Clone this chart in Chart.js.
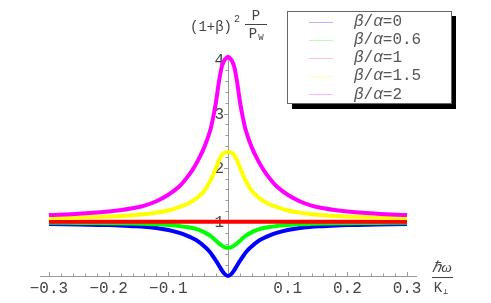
<!DOCTYPE html>
<html>

<head>
  <title>Normalized power vs frequency</title>
  <script src="https://cdn.jsdelivr.net/npm/chart.js"></script>
  <style>
    body { margin: 0; background: #fff; }
  </style>
</head>

<body>
  <canvas id="powerChart" width="491" height="303"></canvas>
  <script>
    // hbar*omega / K_perp, denser near the resonance
    var xValues = [-0.3, -0.25, -0.2, -0.16, -0.14, -0.12, -0.1, -0.08, -0.07, -0.06, -0.05, -0.04, -0.03, -0.025, -0.02, -0.015, -0.01, -0.005,
      0, 0.005, 0.01, 0.015, 0.02, 0.025, 0.03, 0.04, 0.05, 0.06, 0.07, 0.08, 0.1, 0.12, 0.14, 0.16, 0.2, 0.25, 0.3];

    // (1+beta)^2 P/Pw, one list per beta/alpha
    var ratio0 = [0.96, 0.95, 0.94, 0.92, 0.91, 0.885, 0.85, 0.79, 0.75, 0.70, 0.64, 0.55, 0.44, 0.36, 0.28, 0.19, 0.10, 0.03,
      0, 0.03, 0.10, 0.19, 0.28, 0.36, 0.44, 0.55, 0.64, 0.70, 0.75, 0.79, 0.85, 0.885, 0.91, 0.92, 0.94, 0.95, 0.96];
    var ratio06 = [0.985, 0.98, 0.975, 0.97, 0.963, 0.955, 0.94, 0.92, 0.905, 0.885, 0.855, 0.81, 0.745, 0.70, 0.65, 0.60, 0.56, 0.53,
      0.52, 0.53, 0.56, 0.60, 0.65, 0.70, 0.745, 0.81, 0.855, 0.885, 0.905, 0.92, 0.94, 0.955, 0.963, 0.97, 0.975, 0.98, 0.985];
    var ratio1 = [1, 1, 1, 1, 1, 1, 1, 1, 1, 1, 1, 1, 1, 1, 1, 1, 1, 1,
      1, 1, 1, 1, 1, 1, 1, 1, 1, 1, 1, 1, 1, 1, 1, 1, 1, 1, 1];
    var ratio15 = [1.07, 1.08, 1.10, 1.12, 1.14, 1.17, 1.21, 1.28, 1.32, 1.38, 1.46, 1.57, 1.75, 1.87, 2.0, 2.14, 2.24, 2.28,
      2.29, 2.28, 2.24, 2.14, 2.0, 1.87, 1.75, 1.57, 1.46, 1.38, 1.32, 1.28, 1.21, 1.17, 1.14, 1.12, 1.10, 1.08, 1.07];
    var ratio2 = [1.125, 1.15, 1.19, 1.25, 1.30, 1.38, 1.50, 1.67, 1.80, 1.95, 2.14, 2.37, 2.68, 2.92, 3.22, 3.6, 3.88, 4.0,
      4.05, 4.0, 3.88, 3.6, 3.22, 2.92, 2.68, 2.37, 2.14, 1.95, 1.80, 1.67, 1.50, 1.38, 1.30, 1.25, 1.19, 1.15, 1.125];

    var seriesLabels = ['0', '0.6', '1', '1.5', '2'];
    var seriesData = [ratio0, ratio06, ratio1, ratio15, ratio2];
    var lineColors = ['#0000ff', '#00ff00', '#ff0000', '#ffff00', '#ff00ff'];
    var legendColors = ['#b4b4ff', '#b4ffb4', '#ffc4c4', '#ffffb0', '#ffb4ff'];

    var xTicks = [-0.3, -0.2, -0.1, 0.1, 0.2, 0.3];
    var yTicks = [1, 2, 3, 4];

    var axisColor = '#9a9a9a';
    var textColor = '#444';
    var mono = '"Liberation Mono", monospace';

    function fmtX(v) {
      var s = Math.abs(v).toFixed(1);
      return v < 0 ? '\u2212' + s : s;
    }

    // minor + major tick marks, Mathematica style, plus y labels left of the centred axis
    var tickMarks = {
      id: 'tickMarks',
      beforeDatasetsDraw: function (chart) {
        var ctx = chart.ctx, xs = chart.scales.x, ys = chart.scales.y;
        var x0 = xs.getPixelForValue(0), y0 = ys.getPixelForValue(0);
        ctx.save();
        ctx.strokeStyle = axisColor;
        ctx.lineWidth = 1;
        ctx.beginPath();
        for (var i = -15; i <= 15; i++) {
          var px = Math.round(xs.getPixelForValue(i * 0.02)) + 0.5;
          var len = (i % 5 === 0) ? 4 : 2.5;
          ctx.moveTo(px, y0);
          ctx.lineTo(px, y0 - len);
        }
        for (var j = 1; j <= 20; j++) {
          var py = Math.round(ys.getPixelForValue(j * 0.2)) + 0.5;
          var l2 = (j % 5 === 0) ? 4 : 2.5;
          ctx.moveTo(x0, py);
          ctx.lineTo(x0 - l2, py);
        }
        ctx.stroke();

        ctx.fillStyle = textColor;
        ctx.font = '16px ' + mono;
        ctx.textAlign = 'right';
        ctx.textBaseline = 'middle';
        yTicks.forEach(function (v) {
          ctx.fillText(String(v), x0 - 4, ys.getPixelForValue(v) + 1);
        });
        ctx.restore();
      },
      afterDraw: function (chart) {
        var ctx = chart.ctx;
        ctx.save();
        ctx.fillStyle = textColor;
        ctx.strokeStyle = textColor;
        ctx.textBaseline = 'alphabetic';

        // y axis label  (1+b)^2 P / P_W
        ctx.font = '14px ' + mono;
        ctx.textAlign = 'left';
        ctx.fillText('(1+\u03b2)', 190, 31);
        ctx.font = '10px ' + mono;
        ctx.fillText('2', 234, 22);
        ctx.font = '14px ' + mono;
        ctx.textAlign = 'center';
        ctx.fillText('P', 256, 20);
        ctx.fillText('P', 253, 38);
        ctx.font = '9px ' + mono;
        ctx.fillText('W', 261, 40);
        ctx.lineWidth = 1;
        ctx.beginPath();
        ctx.moveTo(245, 24.5);
        ctx.lineTo(267, 24.5);
        ctx.stroke();

        // x axis label  hbar omega / K_perp
        ctx.font = 'italic 15px "Liberation Serif", serif';
        ctx.fillText('\u210f\u03c9', 442, 272);
        ctx.beginPath();
        ctx.moveTo(432, 277.5);
        ctx.lineTo(453, 277.5);
        ctx.stroke();
        ctx.font = '14px ' + mono;
        ctx.fillText('K', 438, 292);
        ctx.font = '8px ' + mono;
        ctx.fillText('\u22a5', 446, 294);

        // legend box with drop shadow
        ctx.fillStyle = '#000';
        ctx.fillRect(292, 16, 164, 93);
        ctx.fillStyle = '#fff';
        ctx.fillRect(287, 12, 164, 92);
        ctx.strokeStyle = '#666';
        ctx.strokeRect(287.5, 11.5, 164, 92);

        ctx.textAlign = 'left';
        ctx.textBaseline = 'middle';
        for (var k = 0; k < seriesLabels.length; k++) {
          var ry = 21.5 + k * 18.2;
          ctx.strokeStyle = legendColors[k];
          ctx.beginPath();
          ctx.moveTo(309, Math.round(ry) + 0.5);
          ctx.lineTo(333, Math.round(ry) + 0.5);
          ctx.stroke();
          ctx.fillStyle = '#555';
          var tx = 354;
          ctx.font = 'italic 16px ' + mono;
          ctx.fillText('\u03b2', tx, ry);
          ctx.font = '16px ' + mono;
          ctx.fillText('/', tx + 9.6, ry);
          ctx.font = 'italic 16px ' + mono;
          ctx.fillText('\u03b1', tx + 19.2, ry);
          ctx.font = '16px ' + mono;
          ctx.fillText('=' + seriesLabels[k], tx + 28.8, ry);
        }
        ctx.restore();
      }
    };

    var datasets = seriesData.map(function (arr, i) {
      return {
        label: '\u03b2/\u03b1=' + seriesLabels[i],
        data: xValues.map(function (x, n) { return { x: x, y: arr[n] }; }),
        borderColor: lineColors[i],
        borderWidth: 4,
        pointRadius: 0,
        fill: false,
        cubicInterpolationMode: 'monotone',
        clip: false,
        order: seriesLabels.length - i
      };
    });

    var ctx = document.getElementById('powerChart').getContext('2d');
    var chart = new Chart(ctx, {
      type: 'line',
      data: { datasets: datasets },
      options: {
        responsive: false,
        animation: false,
        devicePixelRatio: 1,
        layout: { padding: { left: 40, right: 75, top: 55, bottom: 0 } },
        plugins: { legend: { display: false }, tooltip: { enabled: false } },
        scales: {
          x: {
            type: 'linear',
            min: -0.315,
            max: 0.315,
            grid: { display: false, drawTicks: false },
            border: { display: true, color: axisColor, width: 1 },
            afterBuildTicks: function (s) { s.ticks = xTicks.map(function (v) { return { value: v }; }); },
            afterFit: function (s) { s.height = 27; },
            ticks: {
              color: textColor,
              font: { family: mono, size: 16 },
              padding: 3,
              maxRotation: 0,
              autoSkip: false,
              callback: function (v) { return fmtX(v); }
            }
          },
          y: {
            type: 'linear',
            min: 0,
            max: 4.08,
            position: { x: 0 },
            grid: { display: false, drawTicks: false },
            border: { display: true, color: axisColor, width: 1 },
            afterBuildTicks: function (s) { s.ticks = yTicks.map(function (v) { return { value: v }; }); },
            ticks: { display: false }
          }
        }
      },
      plugins: [tickMarks]
    });
  </script>
</body>

</html>
